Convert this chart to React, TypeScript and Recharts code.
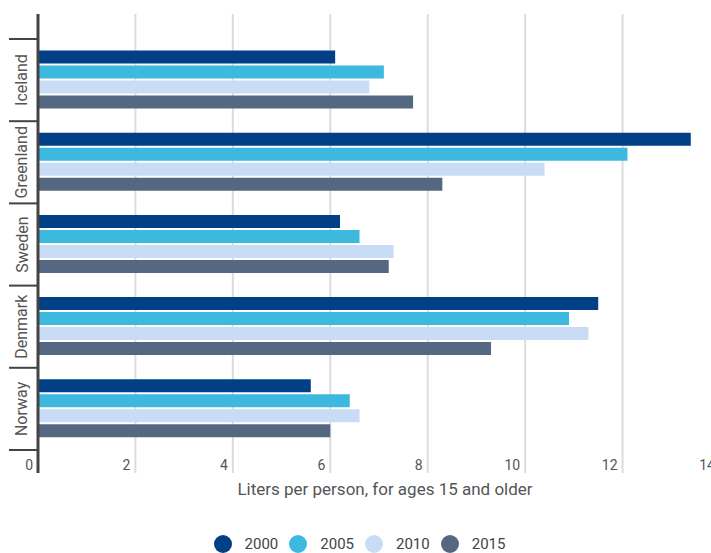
import React from 'react';
import { BarChart, Bar, XAxis, YAxis, CartesianGrid, Legend } from 'recharts';

const countries = ['Iceland', 'Greenland', 'Sweden', 'Denmark', 'Norway'];
const years = ['2000', '2005', '2010', '2015'];
const v2000 = [6.1, 13.4, 6.2, 11.5, 5.6];
const v2005 = [7.1, 12.1, 6.6, 10.9, 6.4];
const v2010 = [6.8, 10.4, 7.3, 11.3, 6.6];
const v2015 = [7.7, 8.3, 7.2, 9.3, 6.0];
const xTicks = [0, 2, 4, 6, 8, 10, 12, 14];

const colors = ['#013f86', '#3db9e0', '#c8ddf5', '#546882'];
const series = [v2000, v2005, v2010, v2015];

const data = countries.map((c, i) => {
  const row: Record<string, string | number> = { country: c };
  years.forEach((y, k) => {
    row[y] = series[k][i];
  });
  return row;
});

const font = 'Roboto, "Noto Sans", sans-serif';

const CategoryTick = (props: any) => {
  const { x, y, payload, index, visibleTicksCount } = props;
  const off = payload && payload.offset ? payload.offset : 41;
  const last = index === visibleTicksCount - 1;
  return (
    <g>
      <line x1={x - 29} x2={x} y1={y - off} y2={y - off} stroke="#444" strokeWidth={2} />
      {last && <line x1={x - 29} x2={x} y1={y + off} y2={y + off} stroke="#444" strokeWidth={2} />}
      <text
        x={x - 16}
        y={y}
        transform={`rotate(-90, ${x - 16}, ${y})`}
        textAnchor="middle"
        dominantBaseline="central"
        fill="#555"
        fontSize={16}
        fontFamily={font}
      >
        {payload.value}
      </text>
    </g>
  );
};

const ValueTick = (props: any) => {
  const { x, y, payload } = props;
  return (
    <text x={x - 5} y={y - 5} textAnchor="end" fill="#555" fontSize={14} fontFamily={font}>
      {payload.value}
    </text>
  );
};

const LegendContent = () => (
  <div
    style={{
      display: 'flex',
      justifyContent: 'center',
      alignItems: 'center',
      height: 20,
      fontFamily: font,
      fontSize: 15,
      color: '#444',
    }}
  >
    {years.map((y, k) => (
      <div key={y} style={{ display: 'flex', alignItems: 'center', marginRight: 11 }}>
        <span
          style={{
            width: 18,
            height: 18,
            borderRadius: 9,
            background: colors[k],
            display: 'inline-block',
            marginRight: 13,
          }}
        />
        <span>{y}</span>
      </div>
    ))}
  </div>
);

export default function App() {
  return (
    <div style={{ position: 'absolute', left: 0, top: 0, width: 711, height: 553, overflow: 'hidden', background: '#fff' }}>
      <BarChart
        width={740}
        height={570}
        data={data}
        layout="vertical"
        margin={{ top: 14, right: 20, bottom: 16, left: 0 }}
        barCategoryGap="14%"
        barGap={2}
      >
        <CartesianGrid horizontal={false} stroke="#dcdcdc" strokeWidth={2} />
        <XAxis
          type="number"
          domain={[0, 14]}
          ticks={xTicks}
          axisLine={false}
          tickLine={false}
          tickSize={0}
          height={61}
          tick={<ValueTick />}
          interval={0}
          label={{ value: 'Liters per person, for ages 15 and older', position: 'insideTop', offset: 10, dx: 6, fill: '#555', fontSize: 17, fontFamily: font }}
        />
        <YAxis
          type="category"
          dataKey="country"
          width={38}
          tickSize={0}
          tickMargin={0}
          tickLine={false}
          axisLine={{ stroke: '#444', strokeWidth: 3 }}
          padding={{ top: 25, bottom: 23 }}
          tick={<CategoryTick />}
          interval={0}
        />
        <Legend verticalAlign="bottom" content={<LegendContent />} wrapperStyle={{ width: 730, left: 0 }} />
        {years.map((y, k) => (
          <Bar key={y} dataKey={y} fill={colors[k]} isAnimationActive={false} />
        ))}
      </BarChart>
    </div>
  );
}
